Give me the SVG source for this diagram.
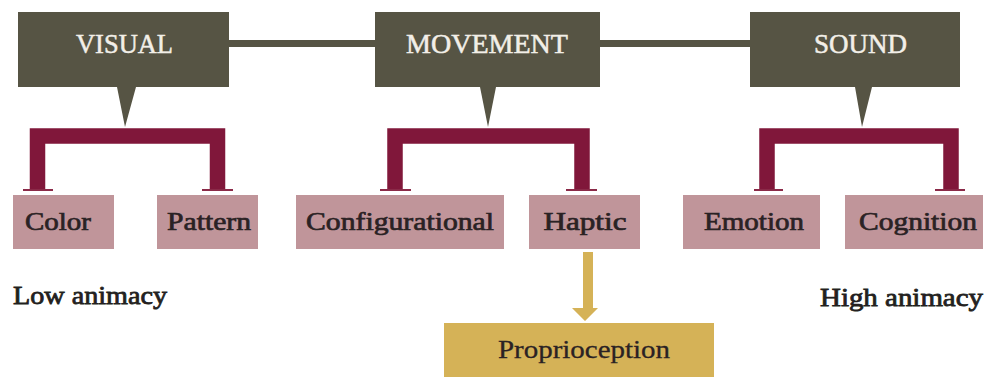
<svg xmlns="http://www.w3.org/2000/svg" width="987" height="377" viewBox="0 0 987 377">
<style>
.hdr{fill:#565444}
.sub{fill:#c0959a}
.gold{fill:#d5b257}
.ht{font-family:"Liberation Serif","Times New Roman",serif;font-size:27px;fill:#f2efe8;stroke:#f2efe8;stroke-width:0.5;text-anchor:middle}
.st{font-family:"Liberation Serif","Times New Roman",serif;font-size:26px;fill:#2a2224;stroke:#2a2224;stroke-width:0.7;text-anchor:middle}
.lt{font-family:"Liberation Serif","Times New Roman",serif;font-size:26px;fill:#231f20;stroke:#231f20;stroke-width:0.8}
.br{fill:none;stroke:#80173a;stroke-width:15.5;stroke-linejoin:miter}
.tee{stroke:#8a2a48;stroke-width:2}
.link{stroke:#565444;stroke-width:7}
</style>
<rect width="987" height="377" fill="#ffffff"/>
<g id="connectors">
  <line class="link" x1="228" y1="43.5" x2="376" y2="43.5"/>
  <line class="link" x1="599" y1="43.5" x2="751" y2="43.5"/>
  <path class="br" d="M37.5 190 V136 H217.5 V190"/>
  <path class="br" d="M395 190 V136 H582 V190"/>
  <path class="br" d="M767 190 V136 H951 V190"/>
  <line class="tee" x1="23" y1="190" x2="53" y2="190"/>
  <line class="tee" x1="202" y1="190" x2="233" y2="190"/>
  <line class="tee" x1="380" y1="190" x2="411" y2="190"/>
  <line class="tee" x1="566" y1="190" x2="597" y2="190"/>
  <line class="tee" x1="754" y1="190" x2="783" y2="190"/>
  <line class="tee" x1="935" y1="190" x2="965" y2="190"/>
  <path class="gold" d="M583 252 H593 V308 H598 L585 321 L572 308 H583 Z"/>
</g>
<g id="visual">
  <path class="hdr" d="M18 12 H229 V87 H136 L125 127 L117 87 H18 Z"/>
  <text class="ht" x="124.5" y="53" textLength="97" lengthAdjust="spacingAndGlyphs">VISUAL</text>
</g>
<g id="movement">
  <path class="hdr" d="M375 12 H600 V87 H496 L488 127 L480 87 H375 Z"/>
  <text class="ht" x="487" y="53" textLength="162" lengthAdjust="spacingAndGlyphs">MOVEMENT</text>
</g>
<g id="sound">
  <path class="hdr" d="M750 12 H960 V87 H872 L862 127 L855 87 H750 Z"/>
  <text class="ht" x="860.5" y="53" textLength="93" lengthAdjust="spacingAndGlyphs">SOUND</text>
</g>
<g id="color">
  <rect class="sub" x="13" y="195" width="101" height="54"/>
  <text class="st" x="58" y="230" textLength="66" lengthAdjust="spacingAndGlyphs">Color</text>
</g>
<g id="pattern">
  <rect class="sub" x="157" y="195" width="101" height="54"/>
  <text class="st" x="209" y="230" textLength="84" lengthAdjust="spacingAndGlyphs">Pattern</text>
</g>
<g id="configurational">
  <rect class="sub" x="296" y="195" width="208" height="54"/>
  <text class="st" x="400" y="230" textLength="188" lengthAdjust="spacingAndGlyphs">Configurational</text>
</g>
<g id="haptic">
  <rect class="sub" x="529" y="195" width="111" height="54"/>
  <text class="st" x="585" y="230" textLength="83" lengthAdjust="spacingAndGlyphs">Haptic</text>
</g>
<g id="emotion">
  <rect class="sub" x="683" y="195" width="137" height="54"/>
  <text class="st" x="754" y="230" textLength="100" lengthAdjust="spacingAndGlyphs">Emotion</text>
</g>
<g id="cognition">
  <rect class="sub" x="845" y="195" width="138" height="54"/>
  <text class="st" x="918" y="230" textLength="118" lengthAdjust="spacingAndGlyphs">Cognition</text>
</g>
<g id="proprioception">
  <rect class="gold" x="444" y="323" width="270" height="54"/>
  <text class="st" x="584" y="358" textLength="172" lengthAdjust="spacingAndGlyphs" style="stroke-width:0.3">Proprioception</text>
</g>
<g id="low-animacy">
  <text class="lt" x="13" y="304" textLength="154" lengthAdjust="spacingAndGlyphs">Low animacy</text>
</g>
<g id="high-animacy">
  <text class="lt" x="820" y="306" textLength="163" lengthAdjust="spacingAndGlyphs">High animacy</text>
</g>
</svg>
